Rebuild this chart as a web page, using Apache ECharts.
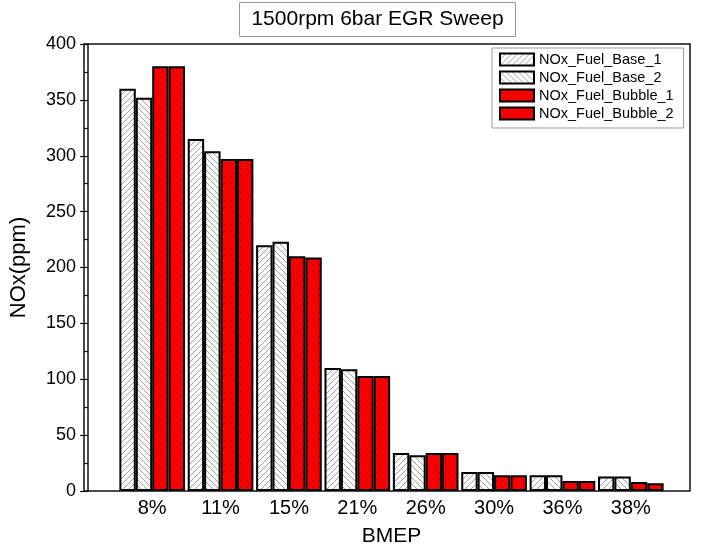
<!DOCTYPE html>
<html>
<head>
<meta charset="utf-8">
<script src="https://cdn.jsdelivr.net/npm/echarts@6/dist/echarts.min.js"></script>
<style>
html,body{margin:0;padding:0;background:#fff;}
#chart{width:705px;height:552px;}
</style>
</head>
<body>
<div id="chart"></div>
<script>
var categories = ['8%', '11%', '15%', '21%', '26%', '30%', '36%', '38%'];
var seriesNames = ['NOx_Fuel_Base_1', 'NOx_Fuel_Base_2', 'NOx_Fuel_Bubble_1', 'NOx_Fuel_Bubble_2'];
var base1 = [360, 315, 220, 110, 34, 17, 14, 13];
var base2 = [352, 304, 223, 109, 32, 17, 14, 13];
var bubble1 = [380, 297, 210, 103, 34, 14, 9, 8];
var bubble2 = [380, 297, 209, 103, 34, 14, 9, 7];
var yTicks = [0, 50, 100, 150, 200, 250, 300, 350, 400];

var FONT = '"Liberation Sans", Arial, sans-serif';

function hatch(bg, fg, dir) {
  var s = 6;
  var c = document.createElement('canvas');
  c.width = s; c.height = s;
  var ctx = c.getContext('2d');
  ctx.fillStyle = bg;
  ctx.fillRect(0, 0, s, s);
  ctx.strokeStyle = fg;
  ctx.lineWidth = 1;
  ctx.beginPath();
  if (dir === '/') {
    ctx.moveTo(0, s); ctx.lineTo(s, 0);
    ctx.moveTo(-1, 1); ctx.lineTo(1, -1);
    ctx.moveTo(s - 1, s + 1); ctx.lineTo(s + 1, s - 1);
  } else {
    ctx.moveTo(0, 0); ctx.lineTo(s, s);
    ctx.moveTo(-1, s - 1); ctx.lineTo(1, s + 1);
    ctx.moveTo(s - 1, -1); ctx.lineTo(s + 1, 1);
  }
  ctx.stroke();
  return { image: c, repeat: 'repeat' };
}

var fills = [
  hatch('#ffffff', '#a0a0a0', '/'),
  hatch('#ffffff', '#a0a0a0', '\\'),
  hatch('#ff0000', '#c80000', '/'),
  hatch('#ff0000', '#c80000', '\\')
];
var dataSets = [base1, base2, bubble1, bubble2];

var series = dataSets.map(function (d, i) {
  return {
    name: seriesNames[i],
    type: 'bar',
    xAxisIndex: 0,
    yAxisIndex: 0,
    data: d,
    barGap: '0%',
    barCategoryGap: '4%',
    itemStyle: { color: fills[i], borderColor: '#000', borderWidth: 2 },
    emphasis: { disabled: true },
    animation: false
  };
});

var chart = echarts.init(document.getElementById('chart'), null, { renderer: 'canvas' });
chart.setOption({
  backgroundColor: '#fff',
  animation: false,
  textStyle: { fontFamily: FONT },
  grid: [
    { left: 114, width: 551, top: 44, bottom: 61, containLabel: false },
    { left: 84, width: 606, top: 44, bottom: 61, show: true, borderColor: '#111', borderWidth: 1.5, backgroundColor: 'transparent', z: 10 }
  ],
  xAxis: [
    {
      type: 'category', gridIndex: 0, data: categories,
      axisLine: { show: false }, axisTick: { show: false },
      axisLabel: { fontSize: 20, color: '#000', margin: 7, fontFamily: FONT },
      name: 'BMEP', nameLocation: 'middle', nameGap: 35,
      nameTextStyle: { fontSize: 21, color: '#000', fontFamily: FONT }
    },
    { type: 'value', gridIndex: 1, show: false }
  ],
  yAxis: [
    {
      type: 'value', gridIndex: 0, min: 0, max: 400, interval: 50, offset: 30,
      axisLine: { show: true, lineStyle: { color: '#111', width: 1.5 } },
      axisTick: { show: true, length: 8, lineStyle: { color: '#111', width: 1.2 } },
      minorTick: { show: true, splitNumber: 2, length: 4, lineStyle: { color: '#111', width: 1.2 } },
      splitLine: { show: false },
      axisLabel: { fontSize: 18, color: '#000', margin: 12, fontFamily: FONT,
        formatter: function (v) { return yTicks.indexOf(v) >= 0 ? String(v) : ''; } },
      name: 'NOx(ppm)', nameLocation: 'middle', nameGap: 58,
      nameTextStyle: { fontSize: 22, color: '#000', fontFamily: FONT }
    },
    { type: 'value', gridIndex: 1, show: false }
  ],
  legend: {
    data: seriesNames,
    orient: 'vertical',
    left: 492, top: 48,
    padding: [4, 10, 7, 7],
    itemGap: 3,
    itemWidth: 34, itemHeight: 12,
    icon: 'rect',
    backgroundColor: '#fff',
    borderColor: '#999', borderWidth: 1,
    itemStyle: { borderColor: '#000', borderWidth: 2 },
    textStyle: { fontSize: 14.5, color: '#000', fontFamily: FONT },
    z: 20
  },
  graphic: [
    {
      type: 'group', left: 239, top: 2,
      children: [
        { type: 'rect', shape: { x: 0, y: 0, width: 276, height: 34 },
          style: { fill: '#fff', stroke: '#999', lineWidth: 1 } },
        { type: 'text', x: 138, y: 17,
          style: { text: '1500rpm 6bar EGR Sweep', fill: '#000', font: '21px "Liberation Sans", Arial, sans-serif',
            textAlign: 'center', textVerticalAlign: 'middle' } }
      ]
    }
  ],
  series: series
});
</script>
</body>
</html>
